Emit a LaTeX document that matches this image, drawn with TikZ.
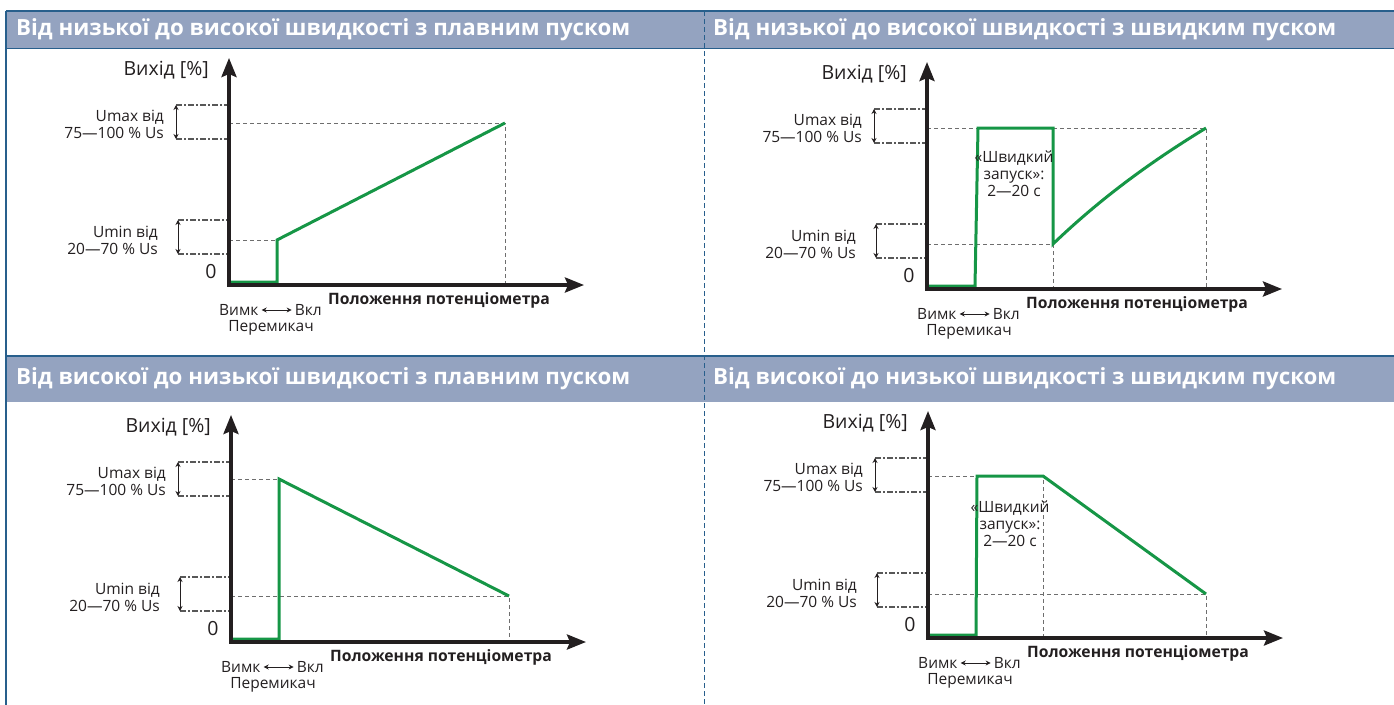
\documentclass[tikz,border=0pt]{standalone}
\usepackage{fontspec}
\setmainfont{Open Sans}
\usetikzlibrary{arrows.meta}

\definecolor{hdrfill}{RGB}{148,163,192}
\definecolor{frameblue}{RGB}{40,95,140}
\definecolor{curvegreen}{RGB}{22,150,70}
\definecolor{guidegray}{RGB}{110,110,110}
\definecolor{inkgray}{RGB}{35,31,32}

\tikzset{
  axisline/.style={draw=inkgray, line width=3.5pt,
    {Stealth[length=19pt,width=15pt,inset=3pt]}-{Stealth[length=19pt,width=15pt,inset=3pt]}},
  guide/.style={draw=guidegray, line width=1pt, dash pattern=on 4pt off 3pt},
  bound/.style={draw=guidegray!80!black, line width=1.2pt, dash pattern=on 6pt off 2pt on 2pt off 2pt},
  span/.style={draw=inkgray, line width=1pt, {Stealth[length=5pt,width=5pt]}-{Stealth[length=5pt,width=5pt]}},
  toggle/.style={draw=inkgray, line width=1pt, shorten <=3pt, shorten >=3pt,
    {Stealth[length=5pt,width=5pt]}-{Stealth[length=5pt,width=5pt]}},
  curve/.style={draw=curvegreen, line width=3pt, line join=miter},
  lbl/.style={text=inkgray, inner sep=0pt, font=\fontsize{15.5}{17}\selectfont},
  biglbl/.style={lbl, font=\fontsize{19.5}{21}\selectfont},
  boldlbl/.style={lbl, font=\bfseries\fontsize{15.7}{17}\selectfont},
  title/.style={text=white, inner sep=0pt, anchor=west, font=\bfseries\fontsize{22.3}{24}\selectfont},
}

% axes, brackets and labels shared by all four plots
\newcommand{\plotframe}[2]{%
  \begin{scope}[shift={#2}]
    \coordinate (#1o) at (0,0);
    \coordinate (#1yt) at (0,-227);
    \coordinate (#1xt) at (355,0);
    \coordinate (#1hiA) at (-53,-180);
    \coordinate (#1hiB) at (-53,-146);
    \coordinate (#1loA) at (-51,-65);
    \coordinate (#1loB) at (-51,-31);
    \draw[bound] (#1hiA) -- (0,-180) (#1hiB) -- (0,-146);
    \draw[span] (#1hiA) -- (#1hiB);
    \draw[bound] (#1loA) -- (0,-65) (#1loB) -- (0,-31);
    \draw[span] (#1loA) -- (#1loB);
    \node[biglbl, anchor=east] (#1out) at (-20,-215) {Вихід [\%]};
    \node[lbl, anchor=east, align=right] (#1max) at (-65,-161) {Umax від\\75—100 \% Us};
    \node[lbl, anchor=east, align=right] (#1min) at (-71,-45) {Umin від\\20—70 \% Us};
    \node[biglbl] (#1zero) at (-18,-13) {0};
    \node[lbl, anchor=west] (#1off) at (-10,25) {Вимк};
    \node[lbl, anchor=east] (#1on) at (93,25) {Вкл};
    \draw[toggle] (#1off.east) -- (#1on.west);
    \node[lbl] (#1sw) at (42,43) {Перемикач};
    \node[boldlbl] (#1pos) at (210,15) {Положення потенціометра};
  \end{scope}}

\begin{document}
\begin{tikzpicture}[x=1pt, y=-1pt]
  \useasboundingbox (0,0) rectangle (1394,704);

  % frame and header bands
  \fill[hdrfill] (6,11) rectangle (1394,48);
  \fill[hdrfill] (6,356) rectangle (1394,402);
  \draw[frameblue, line width=1.5pt] (6,11) -- (1394,11);
  \draw[frameblue, line width=0.8pt] (6,48) -- (1394,48);
  \draw[frameblue, line width=1.5pt] (6,356) -- (1394,356);
  \draw[frameblue, line width=1.5pt] (6,11) -- (6,710);
  \draw[frameblue, line width=1pt, dash pattern=on 5pt off 3pt] (704,11) -- (704,710);

  \node[title] (tltitle) at (16,30) {Від низької до високої швидкості з плавним пуском};
  \node[title] (trtitle) at (713,30) {Від низької до високої швидкості з швидким пуском};
  \node[title] (bltitle) at (16,379) {Від високої до низької швидкості з плавним пуском};
  \node[title] (brtitle) at (713,379) {Від високої до низької швидкості з швидким пуском};

  % low to high, soft start
  \begin{scope}[shift={(229,285)}]
    \draw[guide] (0,-162) -- (276,-162) -- (276,0);
    \draw[guide] (0,-45) -- (48,-45);
  \end{scope}
  \plotframe{tl}{(229,285)}
  \begin{scope}[shift={(229,285)}]
    \draw[curve] (2,-3) -- (48,-3) -- (48,-45) -- (276,-162);
  \end{scope}
  \draw[axisline] (tlyt) |- (tlxt);

  % low to high, quick start
  \begin{scope}[shift={(927,289)}]
    \draw[guide] (0,-161) -- (279,-161) -- (279,0);
    \draw[guide] (0,-45) -- (126,-45) -- (126,0);
  \end{scope}
  \plotframe{tr}{(927,289)}
  \begin{scope}[shift={(927,289)}]
    \draw[curve] (2,-3) -- (48,-3) -- (51,-161) -- (126,-161) -- (126,-45)
      .. controls (175,-92) and (225,-128) .. (279,-161);
    \node[lbl, align=center] (trquick) at (87,-115) {«Швидкий\\запуск»:\\2—20 с};
  \end{scope}
  \draw[axisline] (tryt) |- (trxt);

  % high to low, soft start
  \begin{scope}[shift={(231,642)}]
    \draw[guide] (0,-163) -- (48,-163);
    \draw[guide] (0,-46) -- (278,-46) -- (278,0);
  \end{scope}
  \plotframe{bl}{(231,642)}
  \begin{scope}[shift={(231,642)}]
    \draw[curve] (2,-3) -- (48,-3) -- (48,-163) -- (278,-46);
  \end{scope}
  \draw[axisline] (blyt) |- (blxt);

  % high to low, quick start
  \begin{scope}[shift={(928,638)}]
    \draw[guide] (0,-162) -- (115,-162) -- (115,0);
    \draw[guide] (0,-44) -- (278,-44) -- (278,0);
  \end{scope}
  \plotframe{br}{(928,638)}
  \begin{scope}[shift={(928,638)}]
    \draw[curve] (2,-3) -- (48,-3) -- (49,-162) -- (115,-162) -- (278,-44);
    \node[lbl, align=center] (brquick) at (82,-114) {«Швидкий\\запуск»:\\2—20 с};
  \end{scope}
  \draw[axisline] (bryt) |- (brxt);
\end{tikzpicture}
\end{document}
